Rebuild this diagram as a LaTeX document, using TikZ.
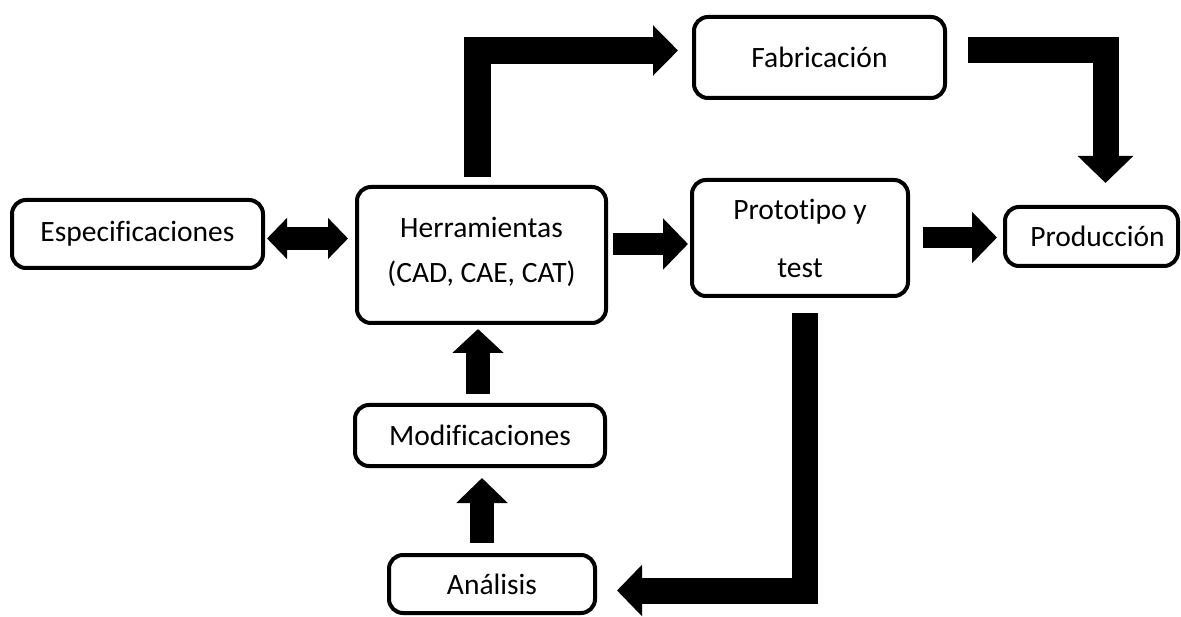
\documentclass[tikz,border=0pt]{standalone}
\usepackage{fontspec}
\setmainfont[Ligatures=NoCommon]{Carlito}
\usetikzlibrary{arrows.meta}
\begin{document}
\begin{tikzpicture}[x=1pt,y=-1pt,
  box/.style={draw=black, line width=4pt, rounded corners=14pt, inner sep=0pt, outer sep=0pt,
    align=center, font=\fontsize{29.5}{35}\selectfont},
  barrow/.style={draw=black, line width=#1, line cap=butt, line join=miter},
  tipa/.style={-{Triangle[length=25pt,width=50pt]}}]
\useasboundingbox (0,0) rectangle (1181,617);
% nodes
\node[box, minimum width=251pt, minimum height=68pt] (spec) at (137.5,234) {Especificaciones};
\node[box, minimum width=249pt, minimum height=136pt, font=\fontsize{29.5}{45}\selectfont] (herr) at (481.5,255) {Herramientas\\(CAD, CAE, CAT)\\[-35pt]\mbox{}};
\node[box, minimum width=251pt, minimum height=81pt] (fab) at (819.5,57.5) {Fabricación};
\node[box, minimum width=216pt, minimum height=116pt, font=\fontsize{29.5}{58}\selectfont] (proto) at (800,238) {Prototipo y\\test};
\node[box, minimum width=173pt, minimum height=59pt] (prod) at (1091.5,236.5) {\hspace*{12pt}Producción};
\node[box, minimum width=250pt, minimum height=61pt] (mod) at (480,435.5) {Modificaciones};
\node[box, minimum width=206pt, minimum height=58pt] (anal) at (492,584) {Análisis};
% connectors
\draw[barrow=27pt, -{Triangle[length=25pt,width=49pt]}]
  ([xshift=-4pt,yshift=10pt]herr.north) |- ([xshift=-16pt,yshift=7pt]fab.west);
\draw[barrow=26pt, -{Triangle[length=27pt,width=54pt]}]
  ([xshift=23pt,yshift=7.5pt]fab.east) -| ([xshift=14pt,yshift=24pt]prod.north);
\draw[barrow=23pt, {Triangle[length=20pt,width=40pt]}-{Triangle[length=20pt,width=40pt]}]
  ([xshift=4pt,yshift=-4.5pt]spec.east) -- ([xshift=-9pt,yshift=16.5pt]herr.west);
\draw[barrow=22pt, tipa]
  ([xshift=7pt,yshift=11pt]herr.east) -- ([xshift=-4pt,yshift=-6pt]proto.west);
\draw[barrow=21pt, tipa]
  ([xshift=15pt,yshift=0.5pt]proto.east) -- ([xshift=-8pt,yshift=-1pt]prod.west);
\draw[barrow=24pt, -{Triangle[length=24pt,width=50pt]}]
  ([xshift=-2pt,yshift=11pt]mod.north) -- ([xshift=-3.5pt,yshift=-6pt]herr.south);
\draw[barrow=24pt, tipa]
  ([xshift=-10pt,yshift=12pt]anal.north) -- ([xshift=2pt,yshift=-12pt]mod.south);
\draw[barrow=26pt, tipa]
  ([xshift=4.5pt,yshift=-17pt]proto.south) |- ([xshift=22pt,yshift=-6.5pt]anal.east);
\end{tikzpicture}
\end{document}
